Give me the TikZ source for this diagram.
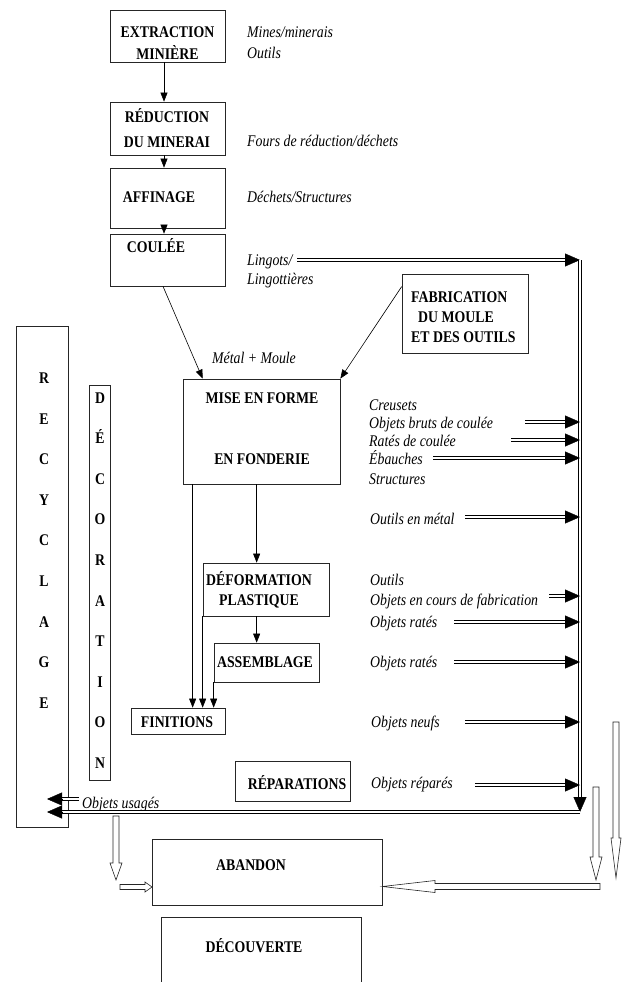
\documentclass[tikz,border=0pt]{standalone}
\usepackage{fontspec}
\setmainfont{Liberation Serif}
\usetikzlibrary{arrows.meta,calc}
\newcommand\darrow[2]{\draw[dline] (#1) -- ($(#2)!12pt!(#1)$); \draw[bigtip] ($(#2)!15pt!(#1)$) -- (#2);}
\newcommand\vs[1]{\scalebox{1}[1.18]{#1}}
\tikzset{
  box/.style 2 args={draw=black!85, line width=0.7pt, inner sep=0pt, minimum width=#1, minimum height=#2},
  btxt/.style={font=\fontsize{13.8}{20}\selectfont\bfseries, align=center, inner sep=0pt},
  itxt/.style={font=\fontsize{13.8}{17}\selectfont\itshape, anchor=west, inner sep=0pt, text height=10.5pt, text depth=0pt},
  arr/.style={-{Triangle[length=9pt,width=7pt]}, line width=0.6pt},
  dline/.style={draw=black, double=white, double distance=1.8pt, line width=1pt},
  bigtip/.style={-{Triangle[length=15pt,width=13pt]}, line width=0.4pt},
  hollow/.style={draw=black!85, line width=0.6pt, fill=white},
  letters/.style={font=\fontsize{13.8}{40.6}\selectfont\bfseries, align=center, inner sep=0pt}
}
\begin{document}
\begin{tikzpicture}[x=1pt,y=-1pt]
\useasboundingbox (0,0) rectangle (622,982);
% boxes
\node[box={115pt}{52pt}] (extr) at (167.5,36) {};
\node[box={115pt}{53pt}] (red) at (167.5,128.5) {};
\node[box={115pt}{60pt}] (aff) at (167.5,198) {};
\node[box={115pt}{52pt}] (coul) at (167.5,260) {};
\node[box={126pt}{79pt}] (fab) at (465,313.5) {};
\node[box={157pt}{105pt}] (mise) at (261.5,431.5) {};
\node[box={126pt}{53pt}] (def) at (266,589.5) {};
\node[box={105pt}{39pt}] (ass) at (266.5,662.5) {};
\node[box={94pt}{26pt}] (fin) at (178,721) {};
\node[box={115pt}{40pt}] (rep) at (292.5,781) {};
\node[box={52pt}{501pt}] (recy) at (42,576.5) {};
\node[box={21pt}{395pt}] (deco) at (99.5,582.5) {};
\node[box={230pt}{66pt}] (aban) at (267,872) {};
\node[box={199pt}{64pt}, draw=none] (decouv) at (261.5,950) {};
\draw[draw=black!85, line width=0.7pt] (decouv.south west) -- (decouv.north west) -- (decouv.north east) -- (decouv.south east);
% box texts
\node[btxt, font=\fontsize{13.8}{22}\selectfont\bfseries] (textr) at (167.5,43) {\vs{EXTRACTION}\\\vs{MINIÈRE}};
\node[btxt, font=\fontsize{13.8}{25}\selectfont\bfseries] (tred) at (167,128) {\vs{RÉDUCTION}\\\vs{DU MINERAI}};
\node[btxt] (taff) at (159,197) {\vs{AFFINAGE}};
\node[btxt] (tcoul) at (156,246) {\vs{COULÉE}};
\node[btxt, align=left, anchor=west] (tfab) at (411,317) {\vs{FABRICATION}\\\hspace*{7pt}\vs{DU MOULE}\\\vs{ET DES OUTILS}};
\node[btxt] (tmise1) at (262,398) {\vs{MISE EN FORME}};
\node[btxt] (tmise2) at (262,459) {\vs{EN FONDERIE}};
\node[btxt] (tdef) at (259,590) {\vs{DÉFORMATION}\\\vs{PLASTIQUE}};
\node[btxt] (tass) at (265,662) {\vs{ASSEMBLAGE}};
\node[btxt] (tfin) at (177,722) {\vs{FINITIONS}};
\node[btxt] (trep) at (297,783) {\vs{RÉPARATIONS}};
\node[btxt] (taban) at (251,865) {\vs{ABANDON}};
\node[btxt] (tdecouv) at (254,946) {\vs{DÉCOUVERTE}};
\node[letters] (trecy) at (44,540.5) {\vs{R}\\\vs{E}\\\vs{C}\\\vs{Y}\\\vs{C}\\\vs{L}\\\vs{A}\\\vs{G}\\\vs{E}};
\node[letters] (tdeco) at (100,580.5) {\vs{D}\\\vs{É}\\\vs{C}\\\vs{O}\\\vs{R}\\\vs{A}\\\vs{T}\\\vs{I}\\\vs{O}\\\vs{N}};
% italic labels
\node[itxt] (l1) at (247,32) {\vs{Mines/minerais}};
\node[itxt] (l2) at (247,53) {\vs{Outils}};
\node[itxt] (l3) at (247,141) {\vs{Fours de réduction/déchets}};
\node[itxt] (l4) at (247,197) {\vs{Déchets/Structures}};
\node[itxt] (l5) at (247,260) {\vs{Lingots/}};
\node[itxt] (l6) at (247,279) {\vs{Lingottières}};
\node[itxt] (l7) at (212,358) {\vs{Métal + Moule}};
\node[itxt] (l8) at (369,405) {\vs{Creusets}};
\node[itxt] (l9) at (369,423) {\vs{Objets bruts de coulée}};
\node[itxt] (l10) at (369,441) {\vs{Ratés de coulée}};
\node[itxt] (l11) at (369,459) {\vs{Ébauches}};
\node[itxt] (l12) at (369,479) {\vs{Structures}};
\node[itxt] (l13) at (370,519) {\vs{Outils en métal}};
\node[itxt] (l14) at (370,580) {\vs{Outils}};
\node[itxt] (l15) at (370,600) {\vs{Objets en cours de fabrication}};
\node[itxt] (l16) at (370,622) {\vs{Objets ratés}};
\node[itxt] (l17) at (370,662) {\vs{Objets ratés}};
\node[itxt] (l18) at (371,722) {\vs{Objets neufs}};
\node[itxt] (l19) at (371,783) {\vs{Objets réparés}};
\node[itxt] (l20) at (82,803) {\vs{Objets usagés}};
% thin arrows
\coordinate (c1) at ($(extr.south)+(-3.5,0)$);
\draw[arr] (c1) -- (c1 |- red.north);
\draw[arr] (c1 |- red.south) -- (c1 |- aff.north);
\draw[arr] (c1 |- aff.south) -- (c1 |- coul.north);
\draw[arr] ($(coul.south)+(-4.5,0)$) -- ($(mise.north west)+(20,0)$);
\draw[arr] ($(fab.north west)+(0,13)$) -- (mise.north east);
\coordinate (m1) at ($(mise.south west)+(10,0)$);
\coordinate (m2) at ($(mise.south west)+(74,0)$);
\draw[arr] (m1) -- (m1 |- fin.north);
\draw[arr] (m2) -- (m2 |- def.north);
\draw[arr] (m2 |- def.south) -- (m2 |- ass.north);
\draw[arr] (def.south west) -- (def.south west |- fin.north);
\draw[arr] (ass.south west) -- (ass.south west |- fin.north);
% double arrows
\coordinate (vtop) at (580,260);
\coordinate (vbot) at (580,812);
\coordinate (utip) at (47,812);
\coordinate (s0) at (297,260);
\darrow{s0}{vtop}
\darrow{vtop}{vbot}
\darrow{vbot}{utip}
\coordinate (us) at (79,799);
\coordinate (ue) at (47,799);
\darrow{us}{ue}
\foreach \n/\x/\y in {1/525/422, 2/511/440, 3/433/458, 4/465/517, 5/549/596, 6/454/622, 7/454/662, 8/465/722, 9/475/785}{
  \coordinate (s\n) at (\x,\y);
  \coordinate (e\n) at (s\n -| vtop);
  \darrow{s\n}{e\n}
}
% hollow arrows
\draw[hollow] (113,816) -- (113,863) -- (110,863) -- (116,880) -- (122,863) -- (119,863) -- (119,816) -- cycle;
\draw[hollow] (120,884.5) -- (145,884.5) -- (145,882) -- (152,887) -- (145,892) -- (145,889.5) -- (120,889.5) -- cycle;
\draw[hollow] (600,883.5) -- (435,883.5) -- (435,880.5) -- (382.5,886.5) -- (435,892.5) -- (435,889.5) -- (600,889.5) -- cycle;
\draw[hollow] (593,787) -- (593,857) -- (590,857) -- (596,880) -- (602,857) -- (599,857) -- (599,787) -- cycle;
\draw[hollow] (613,722) -- (613,838) -- (611,838) -- (616,878) -- (621,838) -- (619,838) -- (619,722) -- cycle;
\end{tikzpicture}
\end{document}
